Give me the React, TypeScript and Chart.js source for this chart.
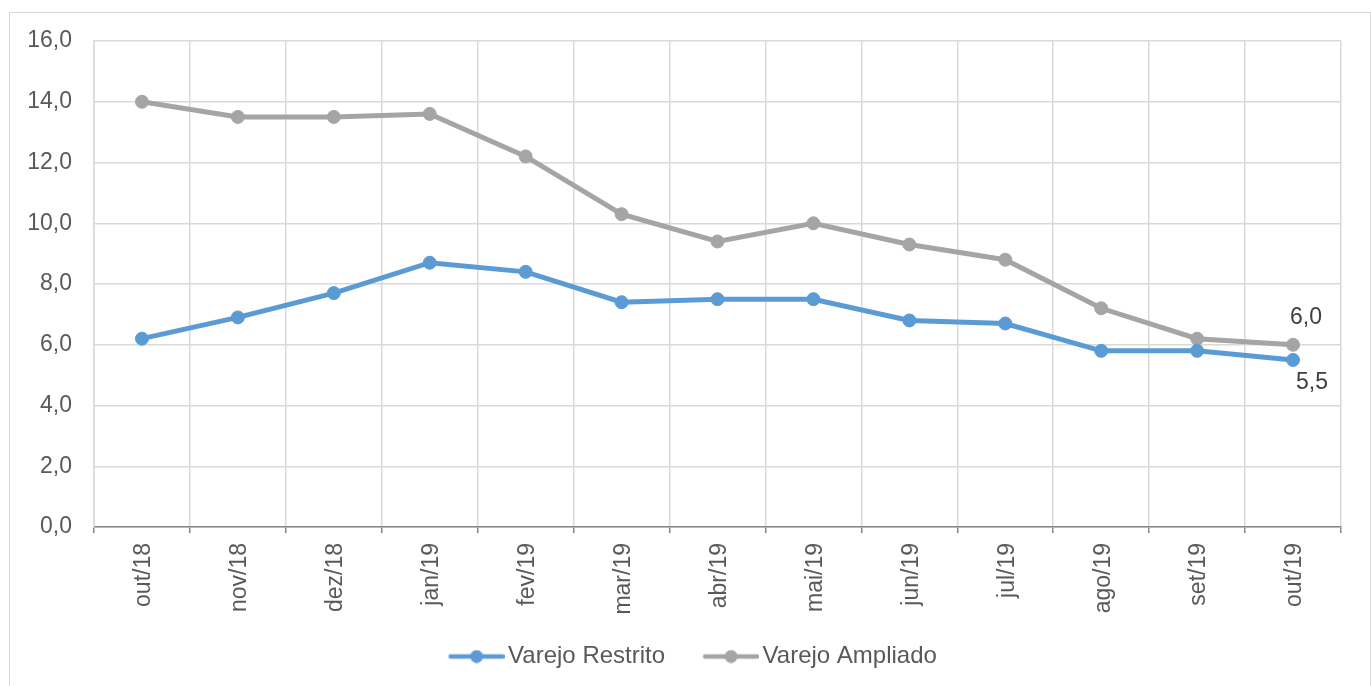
import React, { useEffect, useRef } from "react";
import { Chart, registerables } from "chart.js";

Chart.register(...registerables);

const categories = ["out/18", "nov/18", "dez/18", "jan/19", "fev/19", "mar/19", "abr/19", "mai/19", "jun/19", "jul/19", "ago/19", "set/19", "out/19"];
const varejoRestrito = [6.2, 6.9, 7.7, 8.7, 8.4, 7.4, 7.5, 7.5, 6.8, 6.7, 5.8, 5.8, 5.5];
const varejoAmpliado = [14.0, 13.5, 13.5, 13.6, 12.2, 10.3, 9.4, 10.0, 9.3, 8.8, 7.2, 6.2, 6.0];
const seriesNames = ["Varejo Restrito", "Varejo Ampliado"];
const seriesColors = ["#5B9BD5", "#A5A5A5"];
const yMin = 0;
const yMax = 16;
const yStep = 2;

const FONT = "'Liberation Sans', Arial, sans-serif";

function fmt(v: number) {
  return v.toFixed(1).replace(".", ",");
}

// legend icon: line + marker drawn in the rightmost 56px of a 75px canvas
function makeLegendIcon(color: string) {
  const c = document.createElement("canvas");
  c.width = 75;
  c.height = 14;
  const ctx = c.getContext("2d")!;
  const x0 = 19;
  ctx.strokeStyle = color;
  ctx.lineWidth = 4.5;
  ctx.lineCap = "round";
  ctx.beginPath();
  ctx.moveTo(x0 + 2, 7);
  ctx.lineTo(x0 + 54, 7);
  ctx.stroke();
  ctx.fillStyle = color;
  ctx.beginPath();
  ctx.arc(x0 + 28, 7, 6.5, 0, Math.PI * 2);
  ctx.fill();
  return c;
}

const lastLabels = {
  id: "lastLabels",
  afterDatasetsDraw(chart: any) {
    const ctx = chart.ctx;
    ctx.save();
    ctx.font = `23px ${FONT}`;
    ctx.fillStyle = "#404040";
    ctx.textAlign = "center";
    ctx.textBaseline = "middle";
    chart.data.datasets.forEach((ds: any, i: number) => {
      const meta = chart.getDatasetMeta(i);
      const n = ds.data.length - 1;
      const el = meta.data[n];
      if (!el) return;
      const v = ds.data[n];
      if (i === 1) {
        ctx.fillText(fmt(v), el.x + 13, el.y - 27);
      } else {
        ctx.fillText(fmt(v), el.x + 19, el.y + 23);
      }
    });
    ctx.restore();
  },
};

export default function App() {
  const ref = useRef<HTMLCanvasElement>(null);

  useEffect(() => {
    if (!ref.current) return;
    const icons = seriesColors.map((c) => makeLegendIcon(c));
    const mkDataset = (label: string, data: number[], color: string) => ({
      label,
      data,
      borderColor: color,
      backgroundColor: color,
      borderWidth: 5,
      pointRadius: 6.5,
      pointBorderWidth: 1,
      pointBackgroundColor: color,
      pointBorderColor: color,
      tension: 0,
    });
    const chart = new Chart(ref.current, {
      type: "line",
      data: {
        labels: categories,
        datasets: [
          mkDataset(seriesNames[0], varejoRestrito, seriesColors[0]),
          mkDataset(seriesNames[1], varejoAmpliado, seriesColors[1]),
        ],
      },
      options: {
        responsive: false,
        animation: false,
        devicePixelRatio: 1,
        layout: { padding: { top: 28, right: 29, left: 0, bottom: 7.5 } },
        plugins: {
          tooltip: { enabled: false },
          legend: {
            position: "bottom",
            labels: {
              usePointStyle: true,
              pointStyleWidth: 58,
              padding: 27.5,
              color: "#595959",
              font: { family: FONT, size: 24 },
              generateLabels: (ch: any) =>
                ch.data.datasets.map((ds: any, i: number) => ({
                  text: ds.label,
                  pointStyle: icons[i],
                  fillStyle: seriesColors[i],
                  strokeStyle: seriesColors[i],
                  lineWidth: 0,
                  datasetIndex: i,
                  hidden: false,
                  fontColor: "#595959",
                })),
            },
          },
        },
        scales: {
          x: {
            type: "category",
            offset: true,
            grid: {
              offset: true,
              color: "#d9d9d9",
              lineWidth: 1.5,
              tickColor: "#868686",
              tickLength: 6,
              drawTicks: true,
            },
            border: { color: "#868686", width: 1.5 },
            ticks: {
              minRotation: 90,
              maxRotation: 90,
              autoSkip: false,
              padding: 10,
              labelOffset: 2,
              color: "#595959",
              font: { family: FONT, size: 23 },
            },
            afterFit: (s: any) => {
              s.height = 90;
            },
          },
          y: {
            min: yMin,
            max: yMax,
            grid: { color: "#d9d9d9", lineWidth: 1.5, drawTicks: false },
            border: { color: "#d9d9d9", width: 1.5 },
            ticks: {
              stepSize: yStep,
              padding: 22,
              color: "#595959",
              font: { family: FONT, size: 23 },
              callback: (v: any) => fmt(Number(v)),
            },
            afterFit: (s: any) => {
              s.width = 84;
              s.paddingTop = 10;
              s.paddingBottom = 10;
            },
          },
        },
      },
      plugins: [lastLabels],
    });
    // shift the legend row slightly right to match the reference centring
    const lg: any = (chart as any).legend;
    if (lg) {
      const orig = lg.draw.bind(lg);
      lg.draw = (...args: any[]) => {
        const c = chart.ctx;
        c.save();
        c.translate(12, 0);
        orig(...args);
        c.restore();
      };
      chart.draw();
    }
    return () => chart.destroy();
  }, []);

  return (
    <div
      style={{
        position: "absolute",
        left: 9,
        top: 12,
        width: 1362,
        height: 700,
        border: "1px solid #d9d9d9",
        boxSizing: "border-box",
        background: "#fff",
      }}
    >
      <canvas
        ref={ref}
        width={1360}
        height={673}
        style={{ position: "absolute", left: 0, top: 0, width: 1360, height: 673 }}
      />
    </div>
  );
}
